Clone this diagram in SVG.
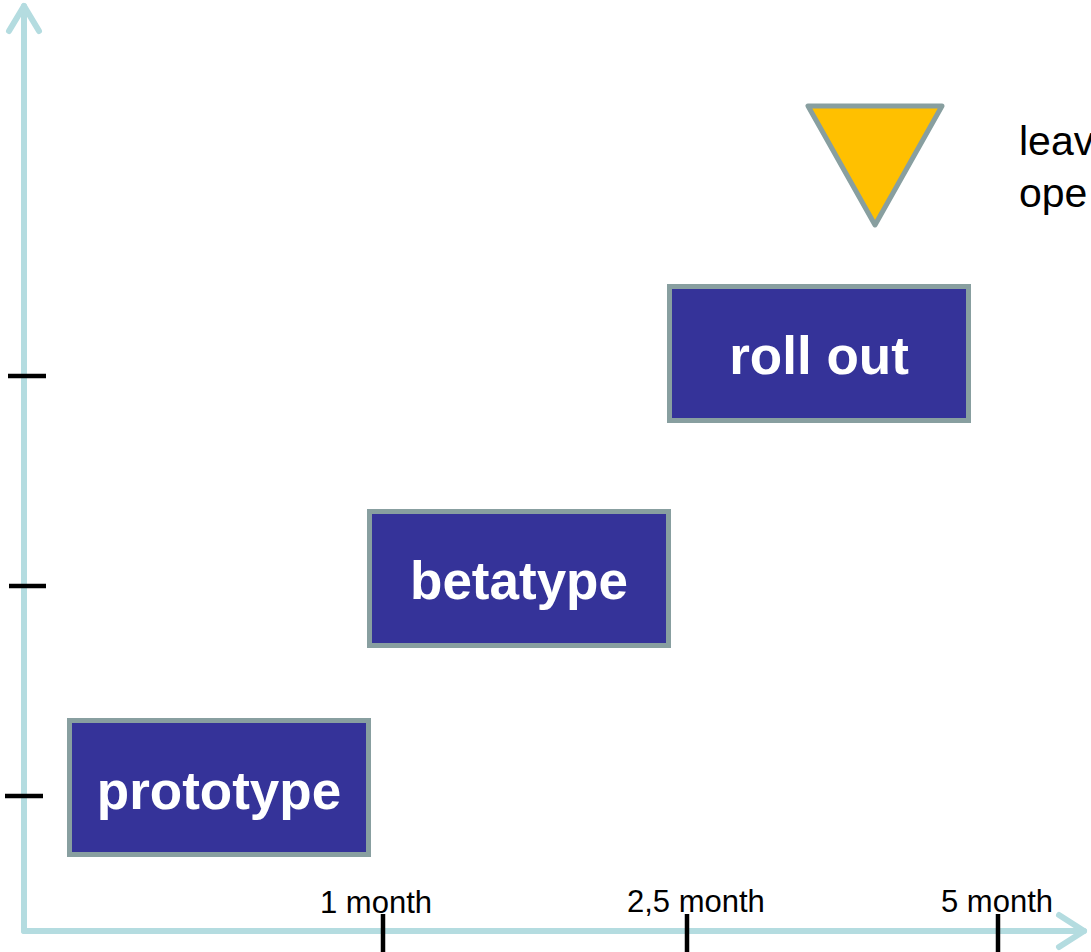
<svg xmlns="http://www.w3.org/2000/svg" width="1091" height="952" viewBox="0 0 1091 952">
<style>
.axis{stroke:#b4dce0;stroke-width:6;fill:none;stroke-linecap:round;stroke-linejoin:round}
.tick{stroke:#000;stroke-width:4.5}
.box{fill:#353399;stroke:#889fa0;stroke-width:5}
.boxt{fill:#fff;font-family:"Liberation Sans",Arial,sans-serif;font-weight:bold;font-size:53px;text-anchor:middle}
.lab{fill:#000;font-family:"Liberation Sans",Arial,sans-serif;font-size:31px}
.note{fill:#000;font-family:"Liberation Sans",Arial,sans-serif;font-size:41px}
</style>
<rect width="1091" height="952" fill="#fff"/>
<g id="connectors">
<line class="axis" x1="24" y1="931" x2="24" y2="6"/>
<polyline class="axis" points="9,31 24,6 39,31"/>
<line class="axis" x1="24" y1="931" x2="1084" y2="931"/>
<polyline class="axis" points="1059,915 1084,931 1059,947"/>
<line class="tick" x1="8" y1="376" x2="46" y2="376"/>
<line class="tick" x1="9" y1="586" x2="46" y2="586"/>
<line class="tick" x1="5" y1="796" x2="43" y2="796"/>
<line class="tick" x1="383" y1="914" x2="383" y2="952"/>
<line class="tick" x1="687" y1="914" x2="687" y2="952"/>
<line class="tick" x1="998" y1="914" x2="998" y2="952"/>
</g>
<g id="labels">
<text class="lab" x="320" y="913">1 month</text>
<text class="lab" x="627" y="912">2,5 month</text>
<text class="lab" x="941" y="912">5 month</text>
</g>
<g id="prototype">
<rect class="box" x="69.5" y="720.5" width="299" height="134"/>
<text class="boxt" x="219" y="809">prototype</text>
</g>
<g id="betatype">
<rect class="box" x="369.5" y="511.5" width="299" height="134"/>
<text class="boxt" x="519" y="599">betatype</text>
</g>
<g id="rollout">
<rect class="box" x="669.5" y="286.5" width="299" height="134"/>
<text class="boxt" x="819" y="374">roll out</text>
</g>
<g id="milestone">
<polygon points="808,106 942,106 875,225" fill="#ffc000" stroke="#889fa0" stroke-width="5" stroke-linejoin="round"/>
<text class="note" x="1019" y="155">leav</text>
<text class="note" x="1019" y="207">ope</text>
</g>
</svg>
